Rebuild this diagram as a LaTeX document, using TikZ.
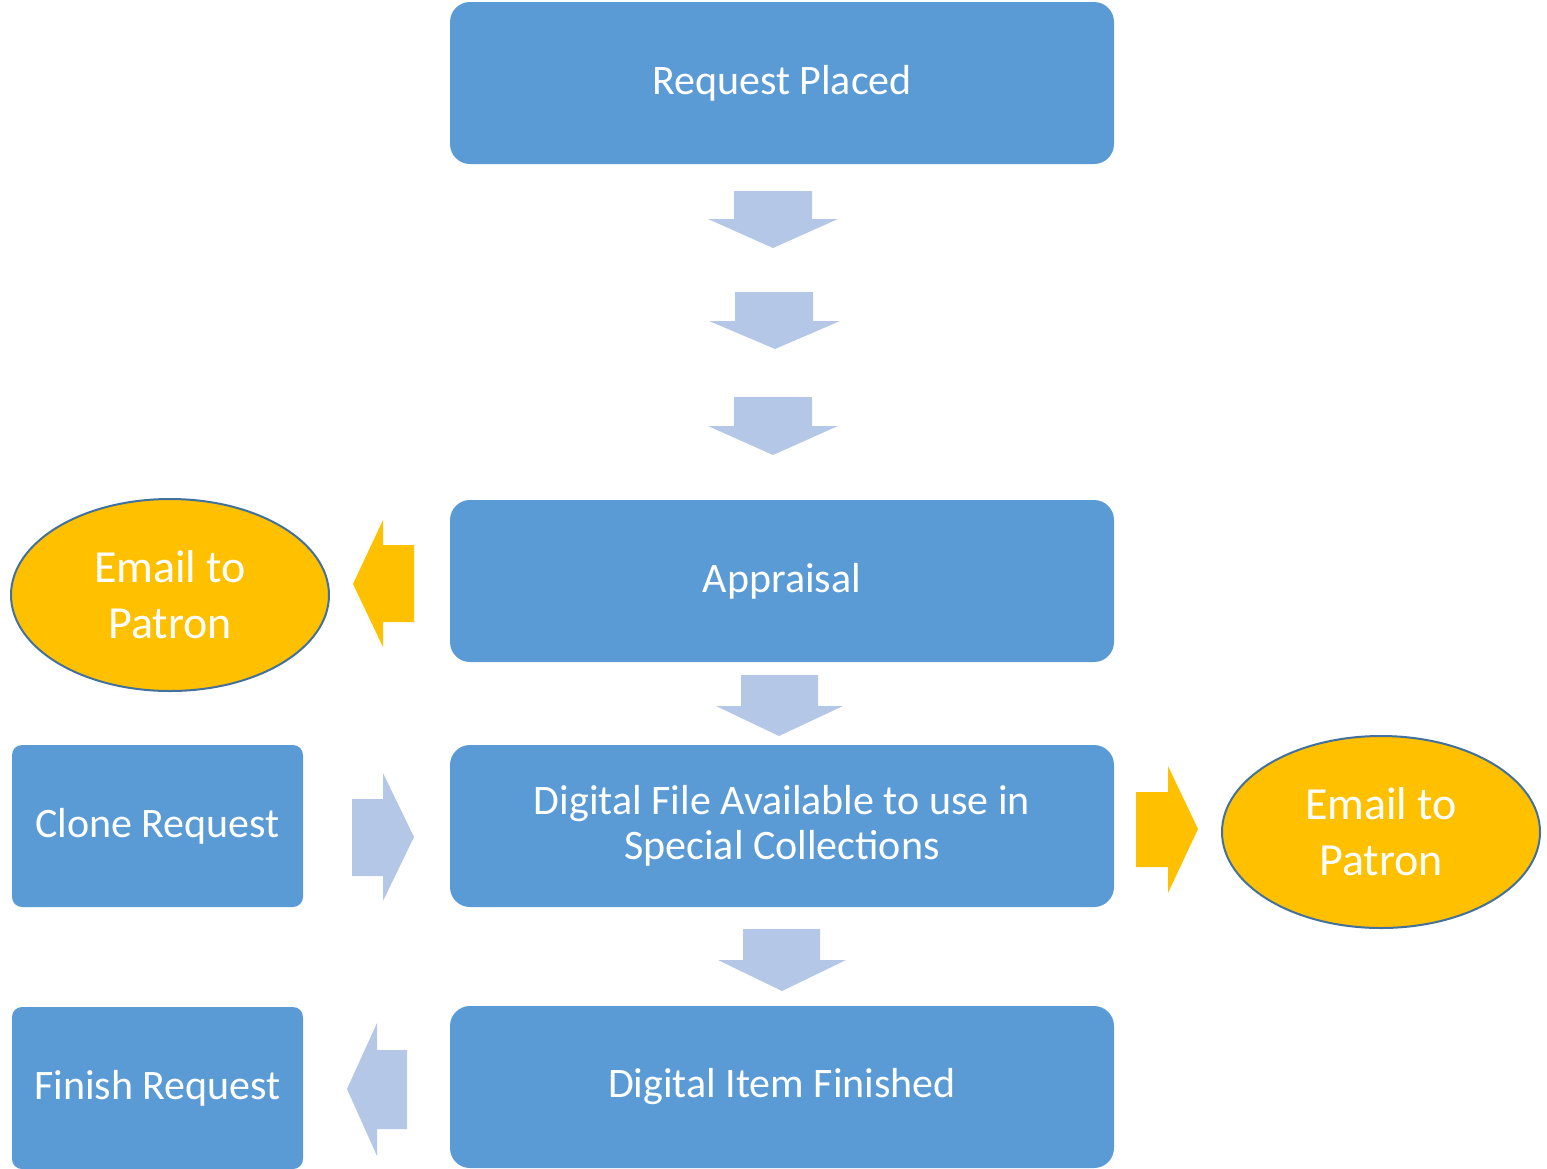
\documentclass[tikz,border=0pt]{standalone}
\usepackage{fontspec}
\setmainfont{Carlito}
\usetikzlibrary{shapes.geometric}
\definecolor{boxblue}{HTML}{5B9BD5}
\definecolor{arrowblue}{HTML}{B4C7E7}
\definecolor{gold}{HTML}{FFC000}
\definecolor{edgeblue}{HTML}{41719C}
\tikzset{
  bigbox/.style={draw=none, fill=boxblue, rounded corners=20pt, minimum width=664pt, minimum height=162pt, text=white, inner sep=0pt, align=center, font=\fontsize{42}{45}\selectfont},
  smallbox/.style={draw=none, fill=boxblue, rounded corners=10pt, minimum width=291pt, minimum height=162pt, text=white, inner sep=0pt, align=center, font=\fontsize{42}{45}\selectfont},
  mailnode/.style={ellipse, draw=edgeblue, line width=2pt, fill=gold, minimum width=318pt, minimum height=192pt, text=white, inner sep=0pt, align=center, font=\fontsize{46}{56}\selectfont},
  lightarrow/.style={fill=arrowblue, draw=none},
  goldarrow/.style={fill=gold, draw=none},
}
\begin{document}
\begin{tikzpicture}[x=1pt, y=-1pt]
\useasboundingbox (0,0) rectangle (1547,1168);
% main column
\node[bigbox] (req) at (782,83) {Request Placed};
\node[bigbox] (appr) at (782,581) {Appraisal};
\node[bigbox] (dfile) at (782,826) {Digital File Available to use in\\Special Collections};
\node[bigbox] (ditem) at (782,1087) {Digital Item Finished};
% side boxes
\node[smallbox] (clone) at (157.5,826) {Clone Request};
\node[smallbox] (finish) at (157.5,1088) {Finish Request};
% ellipses
\node[mailnode] (mailL) at (170,595) {Email to\\Patron};
\node[mailnode] (mailR) at (1381,832) {Email to\\Patron};
% down arrows
\fill[lightarrow] (734,191) -- (812,191) -- (812,219) -- (838,219) -- (773,248) -- (708,219) -- (734,219) -- cycle;
\fill[lightarrow] (735,292) -- (813,292) -- (813,321) -- (840,321) -- (775,349) -- (709,321) -- (735,321) -- cycle;
\fill[lightarrow] (734,397) -- (812,397) -- (812,426) -- (838,426) -- (773,455) -- (708,426) -- (734,426) -- cycle;
\fill[lightarrow] (741,675) -- (818,675) -- (818,706) -- (843,706) -- (779,736) -- (716,706) -- (741,706) -- cycle;
\fill[lightarrow] (743,929) -- (820,929) -- (820,960) -- (846,960) -- (782,991) -- (718,960) -- (743,960) -- cycle;
% left gold arrow (Appraisal -> Email)
\fill[goldarrow] (414,545) -- (414,622) -- (383,622) -- (383,647) -- (353,584) -- (383,520) -- (383,545) -- cycle;
% clone -> digital file
\fill[lightarrow] (352,799) -- (383,799) -- (383,773) -- (414,837) -- (383,901) -- (383,876) -- (352,876) -- cycle;
% digital file -> email right
\fill[goldarrow] (1136,792) -- (1168,792) -- (1168,766) -- (1198,829) -- (1168,893) -- (1168,867) -- (1136,867) -- cycle;
% digital item -> finish
\fill[lightarrow] (407,1050) -- (407,1129) -- (377,1129) -- (377,1156) -- (347,1089) -- (377,1023) -- (377,1050) -- cycle;
\end{tikzpicture}
\end{document}
